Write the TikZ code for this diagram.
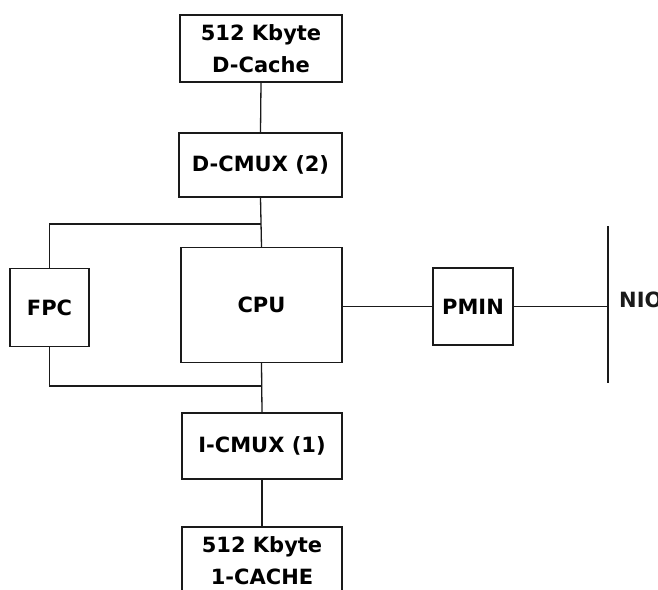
\documentclass[tikz,border=0pt]{standalone}
\usepackage{fontspec}
\setmainfont{DejaVu Sans}
\usepackage{tikz}
\usetikzlibrary{positioning,calc}
\definecolor{ink}{HTML}{1A1A1A}

\begin{document}
\begin{tikzpicture}[x=1pt,y=-1pt,
    unit/.style={draw=ink, line width=1.3pt, inner sep=0pt, align=center,
      font=\fontsize{21}{32}\selectfont\bfseries},
    wire/.style={draw=ink, line width=1.3pt}]
        % Page
        \useasboundingbox (0,0) rectangle (658,589);
        \clip (0,0) rectangle (658,589);
        % Data side
        \node[unit, minimum width=162pt, minimum height=67pt] (dcache) at (261,48.5) {512 Kbyte\\D-Cache};
        \node[unit, minimum width=163pt, minimum height=64pt] (dcmux) at (260.5,165) {D-CMUX (2)};
        % Processor
        \node[unit, minimum width=161pt, minimum height=115pt] (cpu) at (261.5,305) {CPU};
        \node[unit, minimum width=79pt, minimum height=78pt] (fpc) at (49.5,307.5) {FPC};
        % Instruction side
        \node[unit, minimum width=160pt, minimum height=66pt] (icmux) at (262,446) {I-CMUX (1)};
        \node[unit, minimum width=160pt, minimum height=67pt] (icache) at (262,560.5) {512 Kbyte\\1-CACHE};
        % Network side
        \node[unit, minimum width=80pt, minimum height=77pt] (pmin) at (473,306.5) {PMIN};
        \coordinate (bustop) at (608,226);
        \coordinate (busbot) at (608,383);
        \node[anchor=base west, font=\fontsize{21}{24}\selectfont\bfseries, text=ink,
          inner sep=0pt] (nio) at (619,307) {NIO};
        % Joins
        \coordinate (tjoin) at (261,224);
        \coordinate (bjoin) at (261,386);
        % Wires
        \draw[wire] (dcache.south) -- (dcmux.north);
        \draw[wire] (dcmux.south) -- (cpu.north);
        \draw[wire] (fpc.north) |- (tjoin);
        \draw[wire] (fpc.south) |- (bjoin);
        \draw[wire] (cpu.south) -- (icmux.north);
        \draw[wire] (icmux.south) -- (icache.north);
        \draw[wire] (pmin.west) -- (pmin.west -| cpu.east);
        \draw[wire] (pmin.east) -- (pmin.east -| bustop);
        \draw[wire, line width=1.6pt] (bustop) -- (busbot);
      \end{tikzpicture}
\end{document}
